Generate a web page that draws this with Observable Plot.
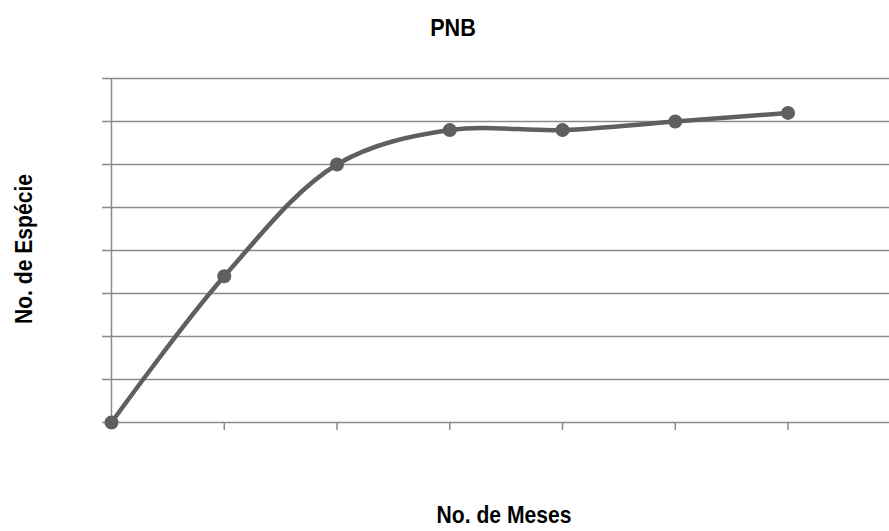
<!DOCTYPE html>
<html>
<head>
<meta charset="utf-8">
<script src="https://cdn.jsdelivr.net/npm/d3@7"></script>
<script src="https://cdn.jsdelivr.net/npm/@observablehq/plot@0.6"></script>
<style>
  html, body { margin: 0; padding: 0; background: #fff; }
  #wrap { position: relative; width: 889px; height: 531px; overflow: hidden; }
  .lbl { position: absolute; font-family: "Liberation Sans", Arial, sans-serif; font-weight: bold; font-size: 24px; color: #000; white-space: nowrap; line-height: 1; }
  #title { left: 453px; top: 16px; transform: translateX(-50%) scaleX(0.9); }
  #xlabel { left: 504px; top: 503px; transform: translateX(-50%) scaleX(0.88); }
  #ylabel { left: 24px; top: 249px; transform: translate(-50%, -50%) rotate(-90deg) scaleX(0.88); }
</style>
</head>
<body>
<div id="wrap">
  <div id="chart"></div>
  <div class="lbl" id="title">PNB</div>
  <div class="lbl" id="ylabel">No. de Espécie</div>
  <div class="lbl" id="xlabel">No. de Meses</div>
</div>
<script>
const months = [0, 1, 2, 3, 4, 5, 6];
const species = [0, 3.4, 6.0, 6.8, 6.8, 7.0, 7.2];
const yTicks = [0, 1, 2, 3, 4, 5, 6, 7, 8];
const xTicks = [1, 2, 3, 4, 5, 6];

const data = months.map((m, i) => ({ m, v: species[i] }));
const gridColor = "#8a8a8a";
const lineColor = "#5f5f5f";

const chart = Plot.plot({
  width: 889,
  height: 531,
  marginTop: 78,
  marginBottom: 109,
  marginLeft: 111,
  marginRight: 0,
  x: { domain: [0, 6.9], axis: null },
  y: { domain: [0, 8], axis: null },
  marks: [
    Plot.gridY(yTicks, { stroke: gridColor, strokeOpacity: 1, strokeWidth: 1.5 }),
    Plot.axisY(yTicks, { tickSize: 9, tickFormat: () => "", label: null, stroke: gridColor, strokeWidth: 1.5 }),
    Plot.axisX(xTicks, { tickSize: 8, tickFormat: () => "", label: null, stroke: gridColor, strokeWidth: 1.5 }),
    Plot.ruleX([0], { y1: 0, y2: 8, stroke: gridColor, strokeWidth: 1.5 }),
    Plot.line(data, { x: "m", y: "v", curve: "catmull-rom", stroke: lineColor, strokeWidth: 4.5 }),
    Plot.dot(data, { x: "m", y: "v", r: 7, fill: lineColor, stroke: "none" })
  ]
});
document.getElementById("chart").appendChild(chart);
</script>
</body>
</html>
